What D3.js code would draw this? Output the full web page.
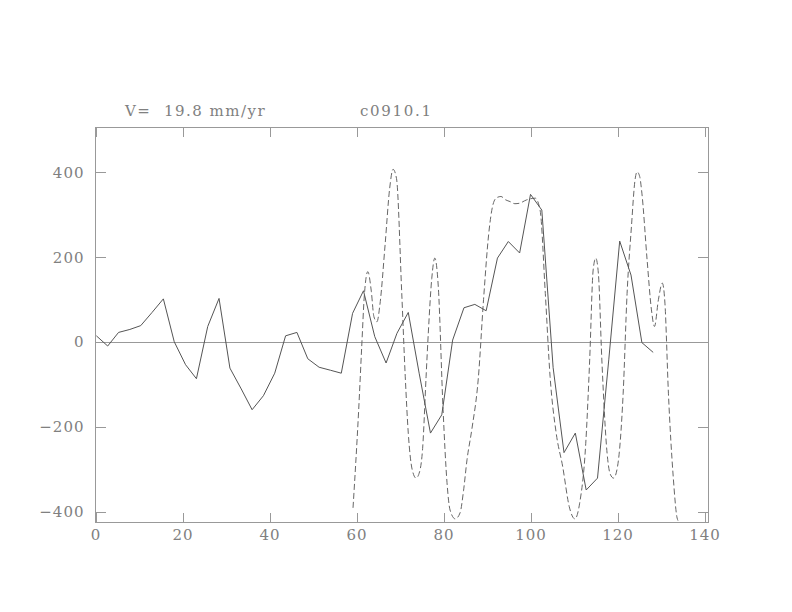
<!DOCTYPE html>
<html>
<head>
<meta charset="utf-8">
<script src="https://cdn.jsdelivr.net/npm/d3@7"></script>
<style>
  body { margin: 0; background: #fff; }
  text { font-family: "DejaVu Serif", serif; fill: #808080; }
</style>
</head>
<body>
<svg id="chart" width="792" height="612"></svg>
<script>
// solid series (distance vs value)
const solidX = [0.2, 2.8, 5.3, 7.9, 10.4, 13.0, 15.6, 18.1, 20.7, 23.2,
  25.8, 28.4, 30.9, 33.5, 36.0, 38.6, 41.2, 43.7, 46.3, 48.8,
  51.4, 54.0, 56.5, 59.1, 61.6, 64.2, 66.8, 69.3, 71.9, 74.4,
  77.0, 79.6, 82.1, 84.7, 87.2, 89.8, 92.4, 94.9, 97.5, 100.0,
  102.6, 105.2, 107.7, 110.3, 112.8, 115.4, 118.0, 120.5, 123.1, 125.6, 128.2];
const solidY = [15, -9, 23, 30, 39, 70, 102, 1, -53, -86,
  37, 103, -61, -110, -159, -126, -73, 15, 23, -39,
  -59, -66, -73, 68, 121, 13, -49, 21, 70, -73,
  -214, -171, 5, 81, 89, 74, 198, 237, 210, 348,
  311, -60, -260, -214, -348, -320, -40, 238, 158, -1, -24];

// dashed series
const dashX = [59.2, 60.5, 61.2, 61.8, 62.6, 63.4, 64.0, 64.7, 65.4, 66.6,
  67.6, 68.4, 69.2, 70.4, 71.2, 71.9, 72.8, 73.7, 74.5, 75.2,
  76.0, 76.5, 77.3, 78.0, 78.8, 79.9, 80.8, 81.5, 82.7, 83.8,
  84.6, 85.4, 86.5, 88.0, 89.2, 90.4, 91.4, 92.2, 93.2, 94.3,
  95.3, 96.4, 97.4, 99.1, 101.1, 102.2, 103.4, 104.5, 105.9, 107.4,
  108.9, 110.2, 111.3, 112.7, 113.6, 114.4, 115.0, 115.6, 116.4, 117.6,
  118.3, 119.1, 120.0, 121.3, 122.2, 123.2, 124.0, 124.5, 125.1, 125.6,
  126.8, 127.8, 128.5, 129.4, 130.3, 130.9, 131.7, 132.8, 133.7, 133.9];
const dashY = [-390, -159, -10, 110, 166, 120, 60, 48, 90, 233,
  360, 407, 385, 115, -80, -214, -300, -320, -305, -250,
  -80, 21, 150, 198, 131, -159, -330, -395, -416, -402,
  -350, -277, -206, -85, 100, 256, 325, 340, 343, 335,
  331, 326, 327, 335, 339, 311, 115, -81, -214, -293,
  -387, -416, -379, -238, -42, 170, 198, 162, -42, -261,
  -310, -320, -293, -120, 115, 272, 380, 401, 390, 351,
  194, 76, 37, 100, 139, 92, -120, -316, -414, -420];

const xTicks = [0, 20, 40, 60, 80, 100, 120, 140];
const yTicks = [-400, -200, 0, 200, 400];
const titleLeft = "V=  19.8 mm/yr";
const titleRight = "c0910.1";

const svg = d3.select("#chart");
const plotLeft = 95.5, plotRight = 708, plotTop = 127, plotBottom = 522.5;

const x = d3.scaleLinear().domain([0, 140.8]).range([plotLeft, plotRight]);
const y = d3.scaleLinear().domain([-424.5, 506.6]).range([plotBottom, plotTop]);

const axisColor = "#999";

// frame
svg.append("rect")
  .attr("x", plotLeft).attr("y", plotTop)
  .attr("width", plotRight - plotLeft).attr("height", plotBottom - plotTop)
  .attr("fill", "none").attr("stroke", axisColor)
  .attr("shape-rendering", "crispEdges");

function styleAxis(g) {
  g.select(".domain").remove();
  g.selectAll("line").attr("stroke", axisColor).attr("shape-rendering", "crispEdges");
  g.selectAll("text")
    .style("font-family", "DejaVu Serif, serif")
    .style("font-size", "15px")
    .style("letter-spacing", "1px")
    .attr("fill", "#808080");
}

svg.append("g")
  .attr("transform", `translate(0,${plotBottom})`)
  .call(d3.axisBottom(x).tickValues(xTicks).tickSizeInner(-10).tickSizeOuter(0).tickPadding(7))
  .call(styleAxis);

svg.append("g")
  .attr("transform", `translate(0,${plotTop})`)
  .call(d3.axisTop(x).tickValues(xTicks).tickSizeInner(-10).tickSizeOuter(0).tickFormat(""))
  .call(styleAxis);

svg.append("g")
  .attr("transform", `translate(${plotLeft},0)`)
  .call(d3.axisLeft(y).tickValues(yTicks).tickSizeInner(-10).tickSizeOuter(0).tickPadding(11))
  .call(styleAxis);

svg.append("g")
  .attr("transform", `translate(${plotRight},0)`)
  .call(d3.axisRight(y).tickValues(yTicks).tickSizeInner(-10).tickSizeOuter(0).tickFormat(""))
  .call(styleAxis);

// zero line
svg.append("line")
  .attr("x1", plotLeft).attr("x2", plotRight)
  .attr("y1", y(0)).attr("y2", y(0))
  .attr("stroke", axisColor)
  .attr("shape-rendering", "crispEdges");

svg.append("clipPath").attr("id", "plot-clip")
  .append("rect")
  .attr("x", plotLeft).attr("y", plotTop)
  .attr("width", plotRight - plotLeft).attr("height", plotBottom - plotTop);

const solid = solidX.map((d, i) => [d, solidY[i]]);
const dashed = dashX.map((d, i) => [d, dashY[i]]);

const line = d3.line().x(d => x(d[0])).y(d => y(d[1]));
const smooth = d3.line().x(d => x(d[0])).y(d => y(d[1])).curve(d3.curveMonotoneX);

svg.append("path")
  .datum(dashed)
  .attr("clip-path", "url(#plot-clip)")
  .attr("d", smooth)
  .attr("fill", "none")
  .attr("stroke", "#666")
  .attr("stroke-width", 1)
  .attr("stroke-dasharray", "6,3");

svg.append("path")
  .datum(solid)
  .attr("d", line)
  .attr("fill", "none")
  .attr("stroke", "#555")
  .attr("stroke-width", 1);

// titles
svg.append("text")
  .attr("x", 125).attr("y", 116)
  .style("font-size", "15px")
  .style("letter-spacing", "1.5px")
  .style("white-space", "pre")
  .text(titleLeft);

svg.append("text")
  .attr("x", 360).attr("y", 116)
  .style("font-size", "15px")
  .style("letter-spacing", "1.7px")
  .text(titleRight);
</script>
</body>
</html>
